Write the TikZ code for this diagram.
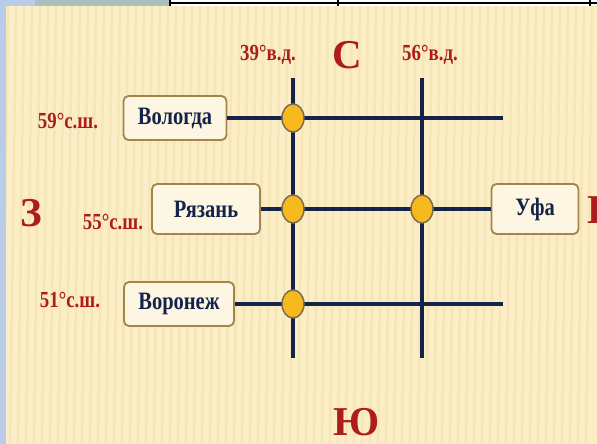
\documentclass[tikz,border=0pt]{standalone}
\usepackage{fontspec}
\setmainfont{Liberation Serif}
\newfontfamily\narrowfont[FakeStretch=0.82]{Liberation Serif}
\usetikzlibrary{positioning,shapes.geometric}
\definecolor{MapNavy}{HTML}{14234A}
\definecolor{MapRed}{HTML}{AE1C1C}
\definecolor{BoxGold}{HTML}{A3844C}
\definecolor{BoxCream}{HTML}{FDF6E2}
\definecolor{PaperCream}{HTML}{FBEDC6}
\definecolor{PaperStripe}{HTML}{F3E0AE}
\definecolor{DotYellow}{HTML}{F6B91E}
\definecolor{DotRim}{HTML}{7C6C50}
\definecolor{FrameBlue}{HTML}{B9CDEA}
\definecolor{FrameGray}{HTML}{A9BFC0}

\begin{document}
\begin{tikzpicture}[
      x=1pt,y=-1pt,
      city/.style={draw=BoxGold,fill=BoxCream,line width=1.8pt,rounded corners=5pt,minimum height=44pt,text=MapNavy,font=\narrowfont\bfseries\fontsize{25}{27}\selectfont},
      coordlbl/.style={text=MapRed,font=\narrowfont\bfseries\fontsize{23}{25}\selectfont},
      side/.style={text=MapRed,font=\bfseries\fontsize{41}{43}\selectfont},
      grid/.style={draw=MapNavy,line width=3.6pt},
      dot/.style={ellipse,draw=DotRim,fill=DotYellow,line width=1.5pt,minimum width=22pt,minimum height=28pt,inner sep=0pt}
    ]
      \useasboundingbox (0,0) rectangle (597,444);
      % background
      \fill[PaperCream] (0,0) rectangle (597,444);
      \foreach \sx in {8,16,...,597}
        \draw[PaperStripe,line width=2.5pt,opacity=0.6] (\sx,6) -- (\sx-6,444);
      \fill[FrameBlue] (0,0) rectangle (6,444);
      \fill[FrameBlue] (0,0) rectangle (597,6);
      \fill[FrameGray] (35,0) rectangle (170,6);
      \fill[white] (170,0) rectangle (597,6);
      \draw[black,line width=1.2pt] (170,3) -- (597,3);
      \draw[black,line width=1.2pt] (170,0) -- (170,6) (338,0) -- (338,6) (590,0) -- (590,6);

      % cities
      \node[city,minimum width=103pt] (vologda) at (175,118) {Вологда};
      \node[city,minimum width=108pt,minimum height=50pt] (ryazan) at (206,209) {Рязань};
      \node[city,minimum width=87pt,minimum height=50pt] (ufa) at (535,209) {Уфа};
      \node[city,minimum width=110pt] (voronezh) at (179,304) {Воронеж};

      % meridians and parallels
      \coordinate (m39top) at (293,78);
      \coordinate (m39bot) at (293,358);
      \coordinate (m56top) at (422,78);
      \coordinate (m56bot) at (422,358);
      \coordinate (p59end) at (503,118);
      \coordinate (p51end) at (503,304);
      \draw[grid] (m39top) -- (m39bot);
      \draw[grid] (m56top) -- (m56bot);
      \draw[grid] (vologda.east) -- (vologda.east -| p59end);
      \draw[grid] (ryazan.east) -- (ufa.west);
      \draw[grid] (voronezh.east) -- (voronezh.east -| p51end);

      % crossings
      \node[dot] (d1) at (vologda.east -| m39top) {};
      \node[dot] (d2) at (ryazan.east -| m39top) {};
      \node[dot] (d3) at (ryazan.east -| m56top) {};
      \node[dot] (d4) at (voronezh.east -| m39top) {};

      % labels
      \node[coordlbl] (lon39) at (268,55) {39°в.д.};
      \node[coordlbl] (lon56) at (430,55) {56°в.д.};
      \node[coordlbl] (lat59) at (68,121) {59°с.ш.};
      \node[coordlbl] (lat55) at (113,222) {55°с.ш.};
      \node[coordlbl] (lat51) at (70,300) {51°с.ш.};
      \node[side] (north) at (347,55) {С};
      \node[side] (west) at (31,213) {З};
      \node[side] (east) at (601,210) {В};
      \node[side] (south) at (357,422) {Ю};
    \end{tikzpicture}
\end{document}
